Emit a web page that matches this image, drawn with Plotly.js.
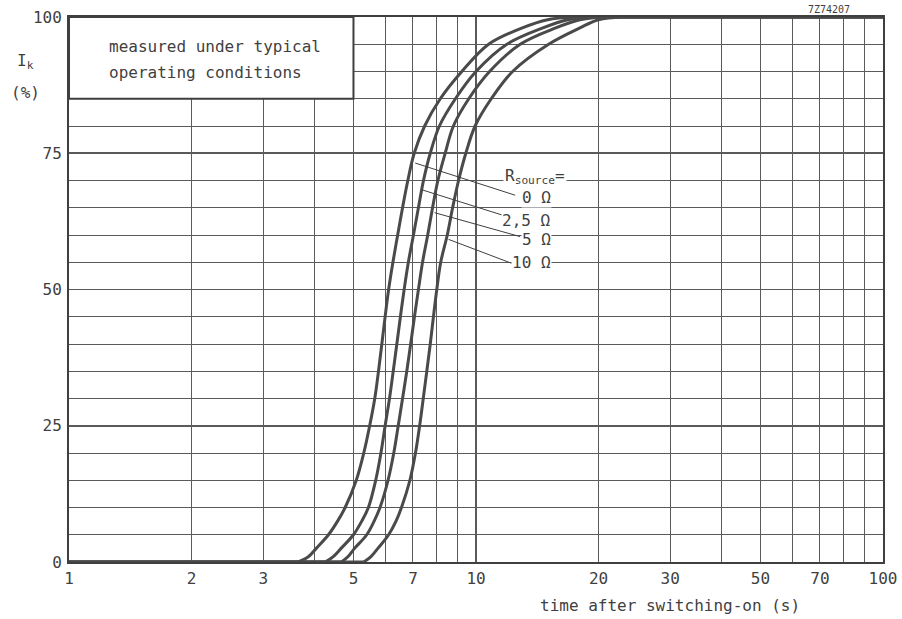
<!DOCTYPE html>
<html>
<head>
<meta charset="utf-8">
<script src="https://cdn.plot.ly/plotly-3.0.1.min.js"></script>
<style>
  html, body { margin: 0; padding: 0; background: #fff; }
  #chart { width: 902px; height: 619px; }
</style>
</head>
<body>
<div id="chart"></div>
<script>
// ---- data ----
// rising part of each curve (I_k in %, vs. time in s); below the first point the
// curve lies on 0 %, after the last point it stays on 100 %.
const yLevels = [0, 1, 2.5, 5, 7.5, 10, 15, 20, 25, 30, 35, 40, 45, 50, 55, 60, 65, 70, 75, 80, 85, 90, 95, 98, 99.5, 100];

const t_0ohm   = [3.66, 3.88, 4.05, 4.34, 4.57, 4.77, 5.08, 5.30, 5.48, 5.64, 5.76, 5.87, 5.98, 6.10, 6.25, 6.42, 6.60, 6.80, 7.05, 7.48, 8.17, 9.23, 10.74, 13.0, 15.0, 17.5];
const t_2_5ohm = [4.26, 4.46, 4.66, 5.00, 5.24, 5.44, 5.67, 5.84, 5.98, 6.13, 6.26, 6.39, 6.52, 6.66, 6.82, 7.02, 7.22, 7.43, 7.72, 8.13, 8.90, 10.0, 11.91, 14.6, 16.8, 19.0];
const t_5ohm   = [4.67, 4.85, 5.03, 5.39, 5.62, 5.81, 6.08, 6.28, 6.44, 6.60, 6.76, 6.91, 7.06, 7.22, 7.39, 7.61, 7.82, 8.06, 8.40, 8.80, 9.60, 10.8, 12.84, 15.7, 18.0, 20.5];
const t_10ohm  = [5.30, 5.52, 5.74, 6.10, 6.36, 6.56, 6.88, 7.10, 7.27, 7.42, 7.57, 7.72, 7.86, 8.01, 8.19, 8.50, 8.76, 9.06, 9.44, 9.95, 10.9, 12.3, 15.08, 18.0, 20.0, 23.0];

const seriesNames = ["0 Ω", "2,5 Ω", "5 Ω", "10 Ω"];
const seriesT = [t_0ohm, t_2_5ohm, t_5ohm, t_10ohm];

const tMin = 1, tMax = 100, yMin = 0, yMax = 100;

// leader lines: from a point on the curve to its label
const leaderFromT = [7.09, 7.36, 7.91, 8.56];
const leaderFromY = [73.2, 68.3, 64.1, 59.2];
const leaderToT   = [12.48, 11.9, 12.84, 12.24];
const leaderToY   = [67.3, 63.4, 59.7, 54.8];
const labelT = 15.33;
const labelY = [66.8, 62.75, 59.1, 54.9];
const headerT = 11.68;
const headerY = 70.8;

const xTickVals = [1, 2, 3, 5, 7, 10, 20, 30, 50, 70, 100];
const xTickText = ["1", "2", "3", "5", "7", "10", "20", "30", "50", "70", "100"];
const xMinorVals = [4, 6, 8, 9, 40, 60, 80, 90];
const xMajorGrid = [10];
const yTickVals = [0, 25, 50, 75, 100];

// ---- styling ----
const FONT = "DejaVu Sans Mono, monospace";
const INK = "#3f3f3f";
const GRID = "#5a5a5a";
const CURVE = "#4a4a4a";

const traces = [];
seriesT.forEach((t, i) => {
  // flat part at 0 %
  traces.push({
    x: [tMin, t[0]], y: [yMin, yLevels[0]], type: "scatter", mode: "lines",
    line: { color: CURVE, width: 3 }, hoverinfo: "skip"
  });
  // rising part
  traces.push({
    x: t, y: yLevels, type: "scatter", mode: "lines", name: seriesNames[i],
    line: { color: CURVE, width: 3, shape: "spline", smoothing: 1 },
    hoverinfo: "skip"
  });
  // flat part at 100 %
  traces.push({
    x: [t[t.length - 1], tMax], y: [yLevels[yLevels.length - 1], yMax], type: "scatter", mode: "lines",
    line: { color: CURVE, width: 3 }, hoverinfo: "skip"
  });
});
for (let i = 0; i < leaderFromT.length; i++) {
  traces.push({
    x: [leaderFromT[i], leaderToT[i]], y: [leaderFromY[i], leaderToY[i]],
    type: "scatter", mode: "lines", line: { color: INK, width: 1 }, hoverinfo: "skip"
  });
}

const shapes = [
  { type: "rect", xref: "x", yref: "y", x0: 1, x1: 5, y0: 85, y1: 100,
    fillcolor: "#ffffff", line: { color: INK, width: 2 }, layer: "between" }
];
xMajorGrid.forEach(v => shapes.push({
  type: "line", xref: "x", yref: "y", x0: v, x1: v, y0: yMin, y1: yMax,
  line: { color: GRID, width: 2 }, layer: "between"
}));

const txt = (size) => ({ family: FONT, size: size, color: INK });
const annotations = [
  { xref: "paper", yref: "paper", x: 0.0467, y: 0.945, xanchor: "left", yanchor: "middle",
    text: "measured under typical", showarrow: false, font: txt(16) },
  { xref: "paper", yref: "paper", x: 0.0467, y: 0.899, xanchor: "left", yanchor: "middle",
    text: "operating conditions", showarrow: false, font: txt(16) },
  { xref: "paper", yref: "paper", x: -0.054, y: 0.918, xanchor: "center", yanchor: "middle",
    text: "I<sub>k</sub>", showarrow: false, font: txt(16) },
  { xref: "paper", yref: "paper", x: -0.054, y: 0.862, xanchor: "center", yanchor: "middle",
    text: "(%)", showarrow: false, font: txt(16) },
  { xref: "paper", yref: "paper", x: 0.738, y: -0.079, xanchor: "center", yanchor: "middle",
    text: "time after switching-on (s)", showarrow: false, font: txt(16) },
  { xref: "paper", yref: "paper", x: 0.934, y: 1.013, xanchor: "center", yanchor: "middle",
    text: "7Z74207", showarrow: false, font: txt(10) },
  { xref: "x", yref: "y", x: Math.log10(headerT), y: headerY, xanchor: "left", yanchor: "middle",
    text: "R<sub>source</sub>=", showarrow: false, bgcolor: "#ffffff", font: txt(16) }
];
seriesNames.forEach((n, i) => annotations.push({
  xref: "x", yref: "y", x: Math.log10(labelT), y: labelY[i], xanchor: "right", yanchor: "middle",
  text: n, showarrow: false, bgcolor: "#ffffff", borderpad: 0, font: txt(16)
}));

const layout = {
  width: 902, height: 619,
  margin: { l: 69, r: 19, t: 17, b: 57 },
  paper_bgcolor: "#ffffff", plot_bgcolor: "#ffffff",
  showlegend: false,
  font: txt(16),
  xaxis: {
    type: "log", range: [Math.log10(tMin), Math.log10(tMax)],
    tickmode: "array", tickvals: xTickVals, ticktext: xTickText,
    showgrid: true, gridcolor: GRID, gridwidth: 1,
    minor: { tickmode: "array", tickvals: xMinorVals, showgrid: true, gridcolor: GRID, gridwidth: 1, ticks: "" },
    ticks: "", ticklabelstandoff: 1,
    showline: true, mirror: true, linecolor: INK, linewidth: 2,
    zeroline: false, tickfont: txt(16)
  },
  yaxis: {
    range: [yMin, yMax],
    tickmode: "array", tickvals: yTickVals,
    showgrid: true, gridcolor: GRID, gridwidth: 1.8,
    minor: { dtick: 5, tick0: 0, showgrid: true, gridcolor: GRID, gridwidth: 1, ticks: "" },
    ticks: "", ticklabelstandoff: 2,
    showline: true, mirror: true, linecolor: INK, linewidth: 2,
    zeroline: false, tickfont: txt(16)
  },
  shapes: shapes,
  annotations: annotations
};

Plotly.newPlot("chart", traces, layout, { staticPlot: true, displayModeBar: false });
</script>
</body>
</html>
